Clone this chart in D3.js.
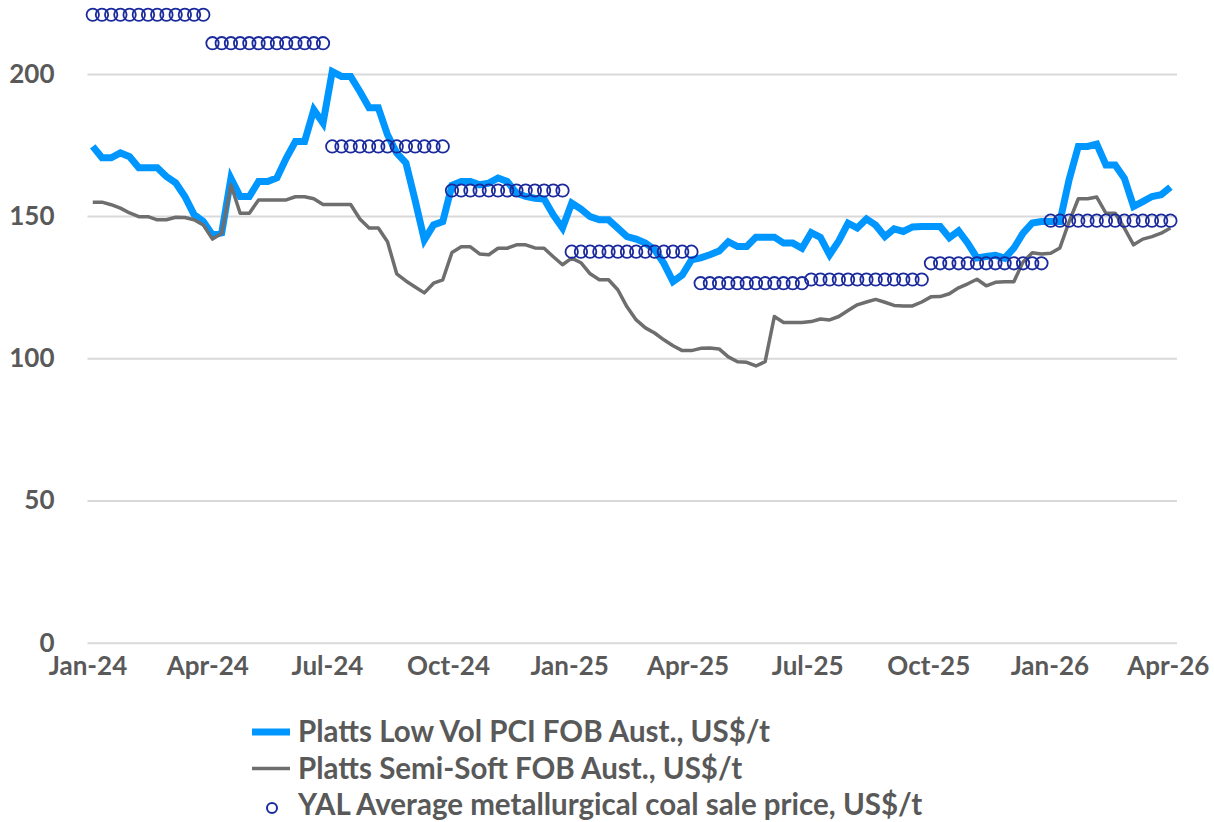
<!DOCTYPE html>
<html>
<head>
<meta charset="utf-8">
<script src="https://cdn.jsdelivr.net/npm/d3@7"></script>
<style>
  html, body { margin: 0; padding: 0; background: #fff; }
  svg { display: block; font-family: Lato, "Open Sans", sans-serif; font-weight: 700; }
</style>
</head>
<body>
<div id="chart"></div>
<script>
// weekly prices, one value per Friday from 5 Jan 2024 to 3 Apr 2026
var firstWeek = '2024-01-05';
var lastWeek = '2026-04-03';

// Platts Low Vol PCI FOB Aust., US$/t
var pciValues = [
  174.5, 170.5, 170.5, 172.2, 170.9, 167, 167, 167, 163.9, 161.7,
  156.9, 150.5, 148.1, 143.4, 144.1, 163.3, 156.9, 156.9, 162.2, 162.2,
  163.5, 170.3, 176.2, 176.2, 187.4, 182.7, 200.8, 199.1, 199.1, 193.8,
  188.1, 188.1, 178.6, 172.2, 168.7, 155.5, 141.6, 146.9, 148.1, 160.8,
  162.2, 162.2, 161, 161.6, 163.4, 162.2, 158.1, 156.9, 156.3, 156,
  150.4, 145.8, 154.6, 152.5, 149.8, 148.7, 148.7, 145.8, 142.8, 141.9,
  140.5, 138.2, 133.4, 127, 129.3, 134.6, 135.3, 136.4, 137.7, 141,
  139.3, 139.3, 142.6, 142.6, 142.6, 140.5, 140.5, 138.7, 144.2, 142.5,
  136.4, 141.3, 147.5, 145.8, 149, 146.8, 142.8, 145.5, 144.6, 146.2,
  146.3, 146.3, 146.3, 142.4, 144.8, 140.5, 135.3, 135.8, 136.2, 135.2,
  138.7, 144, 147.6, 148.1, 148.1, 148.1, 162.8, 174.5, 174.5, 175.3,
  168, 168, 163.3, 153.4, 155.1, 156.9, 157.5, 160.2
];

// Platts Semi-Soft FOB Aust., US$/t
var semiSoftValues = [
  154.9, 154.9, 154, 152.8, 151.1, 149.8, 149.8, 148.7, 148.7, 149.6,
  149.5, 148.7, 146.9, 141.9, 144, 161, 151, 151, 155.7, 155.7,
  155.7, 155.7, 156.8, 156.8, 156.1, 154.1, 154.1, 154.1, 154.1, 149,
  145.8, 145.8, 141, 129.7, 127.2, 125.1, 123, 126.4, 127.6, 137.2,
  139.2, 139.2, 136.7, 136.4, 138.7, 138.7, 139.9, 139.9, 138.8, 138.7,
  135.7, 132.9, 135.2, 133.6, 129.7, 127.6, 127.6, 124.1, 118.1, 113.5,
  110.7, 108.9, 106.5, 104.4, 102.7, 102.7, 103.5, 103.6, 103.3, 100.5,
  98.8, 98.6, 97.3, 98.8, 114.7, 112.6, 112.6, 112.6, 112.9, 113.8,
  113.5, 114.7, 116.8, 118.8, 119.8, 120.7, 119.7, 118.6, 118.4, 118.4,
  119.8, 121.6, 121.7, 122.7, 124.8, 126.2, 127.8, 125.5, 126.7, 126.9,
  126.9, 133.9, 137.1, 136.7, 136.9, 138.8, 148, 156.1, 156.1, 156.7,
  151, 151, 145.8, 139.9, 141.9, 142.8, 144, 145.8
];

// YAL average metallurgical coal sale price, one value per quarter, and the weeks it covers
var yalQuarterValues = [220.8, 210.8, 174.5, 159, 137.5, 126.4, 127.7, 133.4, 148.4];
var yalQuarterWeeks = [13, 13, 13, 13, 14, 12, 13, 13, 14];

var tickDates = ['2024-01-01', '2024-04-01', '2024-07-01', '2024-10-01', '2025-01-01',
                 '2025-04-01', '2025-07-01', '2025-10-01', '2026-01-01', '2026-04-01'];
var tickLabels = ['Jan-24', 'Apr-24', 'Jul-24', 'Oct-24', 'Jan-25',
                  'Apr-25', 'Jul-25', 'Oct-25', 'Jan-26', 'Apr-26'];
var yTicks = [0, 50, 100, 150, 200];

var legendLabels = [
  'Platts Low Vol PCI FOB Aust., US$/t',
  'Platts Semi-Soft FOB Aust., US$/t',
  'YAL Average metallurgical coal sale price, US$/t'
];

var blue = '#0096ff';
var grey = '#6e6e6e';
var navy = '#1a2a9c';
var textColor = '#595959';

var width = 1214, height = 822;
var parse = d3.utcParse('%Y-%m-%d');

var weeks = d3.utcFriday.range(parse(firstWeek), d3.utcDay.offset(parse(lastWeek), 1));

var yalWeekly = [];
yalQuarterWeeks.forEach(function(n, q) {
  for (var k = 0; k < n; k++) yalWeekly.push(yalQuarterValues[q]);
});

var svg = d3.select('#chart').append('svg')
  .attr('width', width)
  .attr('height', height);

var x = d3.scaleUtc()
  .domain([parse('2024-01-01'), parse('2026-04-08')])
  .range([87.5, 1177]);

var y = d3.scaleLinear()
  .domain([0, 200])
  .range([642.7, 73.9]);

// gridlines + y labels
var yAxis = svg.append('g')
  .attr('transform', 'translate(' + x.range()[0] + ',0)')
  .call(d3.axisLeft(y)
    .tickValues(yTicks)
    .tickSize(-(x.range()[1] - x.range()[0]))
    .tickPadding(33));
yAxis.select('.domain').remove();
yAxis.selectAll('.tick line')
  .attr('stroke', '#d9d9d9')
  .attr('stroke-width', 2);
yAxis.selectAll('.tick text')
  .attr('fill', textColor)
  .style('font-size', '26px')
  .style('font-family', 'Lato, sans-serif')
  .style('font-weight', 700);

// x labels
var xAxis = svg.append('g')
  .attr('transform', 'translate(0,' + y(0) + ')')
  .call(d3.axisBottom(x)
    .tickValues(tickDates.map(parse))
    .tickFormat(function(d, i) { return tickLabels[i]; })
    .tickSize(0)
    .tickPadding(14));
xAxis.select('.domain').remove();
xAxis.selectAll('.tick text')
  .attr('fill', textColor)
  .style('font-size', '26px')
  .style('font-family', 'Lato, sans-serif')
  .style('font-weight', 700);

var line = d3.line()
  .x(function(d, i) { return x(weeks[i]); })
  .y(function(d) { return y(d); });

svg.append('path')
  .datum(pciValues)
  .attr('d', line)
  .attr('fill', 'none')
  .attr('stroke', blue)
  .attr('stroke-width', 7)
  .attr('stroke-linejoin', 'miter');

svg.append('path')
  .datum(semiSoftValues)
  .attr('d', line)
  .attr('fill', 'none')
  .attr('stroke', grey)
  .attr('stroke-width', 3.5)
  .attr('stroke-linejoin', 'round');

svg.append('g')
  .selectAll('circle')
  .data(yalWeekly)
  .enter()
  .append('circle')
  .attr('cx', function(d, i) { return x(weeks[i]); })
  .attr('cy', function(d) { return y(d); })
  .attr('r', 6.2)
  .attr('fill', 'none')
  .attr('stroke', navy)
  .attr('stroke-width', 1.8);

// legend
var legend = svg.append('g').attr('transform', 'translate(252,732)');
var rowGap = 36.5;

legend.append('line')
  .attr('x1', 0).attr('x2', 38).attr('y1', 0).attr('y2', 0)
  .attr('stroke', blue).attr('stroke-width', 7);
legend.append('line')
  .attr('x1', 0).attr('x2', 38).attr('y1', rowGap).attr('y2', rowGap)
  .attr('stroke', grey).attr('stroke-width', 3.5);
legend.append('circle')
  .attr('cx', 20).attr('cy', rowGap * 2 + 3).attr('r', 5)
  .attr('fill', 'none').attr('stroke', navy).attr('stroke-width', 2);

legend.selectAll('text')
  .data(legendLabels)
  .enter()
  .append('text')
  .attr('x', 46)
  .attr('y', function(d, i) { return i * rowGap; })
  .attr('dy', '0.35em')
  .attr('fill', textColor)
  .style('font-size', '29.5px')
  .text(function(d) { return d; });
</script>
</body>
</html>
